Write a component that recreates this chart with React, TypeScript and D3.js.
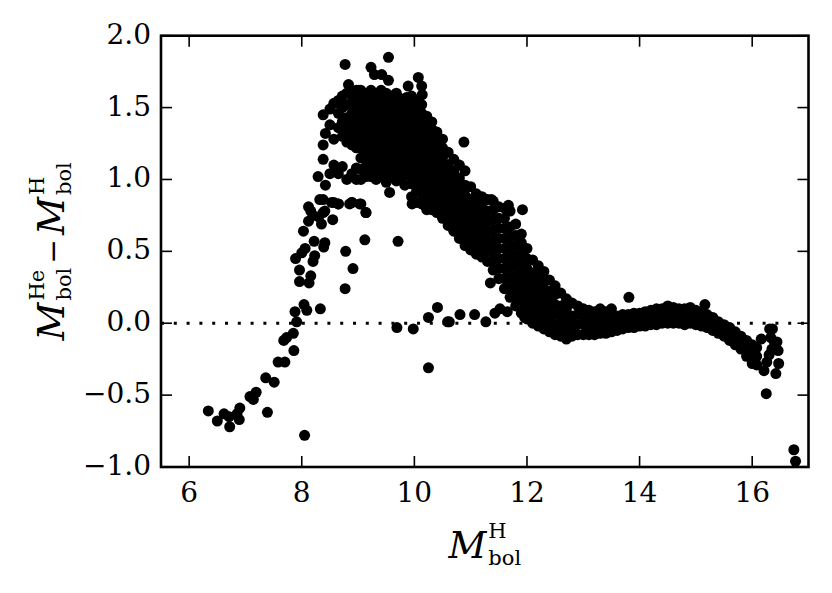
import React, { useEffect, useRef } from "react";
import * as d3 from "d3";

const W = 832;
const H = 593;
const PLOT = { left: 161, right: 808.5, top: 35.7, bottom: 467 };

const xDomain = [5.5, 17];
const yDomain = [-1, 2];
const xTicks = [6, 8, 10, 12, 14, 16];
const xTickLabels = ["6", "8", "10", "12", "14", "16"];
const yTicks = [-1.0, -0.5, 0.0, 0.5, 1.0, 1.5, 2.0];
const yTickLabels = ["\u22121.0", "\u22120.5", "0.0", "0.5", "1.0", "1.5", "2.0"];

// sparse points on the far left
const leftTail: [number, number][] = [
  [6.34, -0.61], [6.5, -0.68], [6.62, -0.63], [6.72, -0.72], [6.71, -0.65], [6.85, -0.63],
  [6.9, -0.59], [6.89, -0.67], [7.08, -0.51], [7.19, -0.48], [7.14, -0.53], [7.39, -0.62],
  [7.36, -0.38], [7.51, -0.41], [7.58, -0.27], [7.7, -0.27], [7.68, -0.12], [7.73, -0.1],
  [7.86, -0.19], [7.85, -0.07], [7.91, 0.01], [7.88, 0.08], [8.05, -0.78],
];

// rising branch between 7.9 and 9.2
const risingBranch: [number, number][] = [
  [8.04, 0.13], [8.09, 0.09], [8.33, 0.1], [7.96, 0.29], [7.96, 0.37], [8.13, 0.28],
  [8.16, 0.33], [7.89, 0.45], [8.06, 0.52], [8.0, 0.49], [8.2, 0.43], [8.23, 0.47],
  [8.22, 0.57], [8.41, 0.56], [8.39, 0.53], [8.78, 0.5], [8.91, 0.38], [8.77, 0.24],
  [9.12, 0.58], [9.71, 0.57], [8.03, 0.64], [8.12, 0.71], [8.2, 0.75], [8.12, 0.81],
  [8.35, 0.69], [8.55, 0.72], [8.41, 0.78], [9.14, 0.77], [8.85, 0.83], [8.65, 0.83],
  [8.16, 0.78], [8.3, 0.74], [8.32, 0.86], [8.53, 0.84], [9.03, 0.83], [8.89, 0.84],
  [9.96, 0.83], [10.22, 0.79],
];

// upper cluster, listed column by column: [x, y values]
const upperCluster: [number, number[]][] = [
  [8.29, [1.02]],
  [8.38, [0.77, 0.86, 1.14, 1.24, 1.45]],
  [8.42, [0.96, 1.32]],
  [8.5, [1.04, 1.38, 1.49]],
  [8.57, [0.84, 1.1, 1.28, 1.53]],
  [8.65, [0.83, 1.04, 1.36, 1.46, 1.55]],
  [8.72, [1.09, 1.3, 1.4, 1.5, 1.58]],
  [8.8, [1.0, 1.26, 1.34, 1.43, 1.52, 1.6]],
  [8.89, [0.84, 1.04, 1.24, 1.3, 1.38, 1.46, 1.54, 1.61]],
  [8.97, [1.0, 1.08, 1.22, 1.28, 1.35, 1.42, 1.49, 1.56, 1.62]],
  [9.05, [0.83, 1.0, 1.07, 1.15, 1.22, 1.29, 1.36, 1.43, 1.5, 1.57, 1.62]],
  [9.14, [0.77, 1.02, 1.09, 1.16, 1.23, 1.3, 1.37, 1.44, 1.51, 1.58]],
  [9.23, [1.02, 1.08, 1.15, 1.21, 1.27, 1.34, 1.41, 1.48, 1.55, 1.62]],
  [9.32, [1.0, 1.06, 1.12, 1.19, 1.26, 1.33, 1.4, 1.47, 1.54, 1.6]],
  [9.41, [1.02, 1.09, 1.16, 1.23, 1.3, 1.37, 1.44, 1.51, 1.57, 1.62]],
  [9.5, [0.98, 1.05, 1.12, 1.19, 1.26, 1.33, 1.4, 1.47, 1.54, 1.6]],
  [9.56, [0.91]],
  [9.59, [1.02, 1.09, 1.16, 1.23, 1.3, 1.37, 1.44, 1.51, 1.58]],
  [9.68, [0.99, 1.06, 1.13, 1.2, 1.27, 1.34, 1.41, 1.48, 1.55, 1.6]],
  [9.77, [1.01, 1.08, 1.15, 1.22, 1.29, 1.36, 1.43, 1.5, 1.56]],
  [9.83, [0.96]],
  [9.86, [1.03, 1.1, 1.17, 1.24, 1.31, 1.38, 1.45, 1.52, 1.57]],
  [9.95, [0.88, 0.97, 1.04, 1.11, 1.18, 1.25, 1.32, 1.39, 1.46, 1.53, 1.58]],
  [10.04, [0.84, 0.92, 0.99, 1.06, 1.13, 1.2, 1.27, 1.34, 1.41, 1.48, 1.55]],
  [10.13, [0.83, 0.9, 0.97, 1.04, 1.11, 1.18, 1.25, 1.32, 1.39, 1.46, 1.52]],
];

// highest points above the cluster
const upperPeaks: [number, number][] = [
  [8.77, 1.8], [9.23, 1.78], [9.54, 1.85], [9.29, 1.73], [9.42, 1.73], [9.54, 1.69],
  [8.83, 1.66], [10.07, 1.71], [10.13, 1.65], [9.89, 1.65], [10.14, 1.59], [9.01, 1.62],
];

// descending band, column by column
const descendingBand: [number, number[]][] = [
  [10.22, [0.8, 0.87, 0.94, 1.01, 1.08, 1.15, 1.22, 1.29, 1.36, 1.44]],
  [10.31, [0.79, 0.86, 0.93, 1.0, 1.07, 1.14, 1.21, 1.28, 1.35, 1.4]],
  [10.4, [0.77, 0.84, 0.91, 0.98, 1.05, 1.12, 1.19, 1.26, 1.33]],
  [10.5, [0.73, 0.8, 0.87, 0.94, 1.01, 1.08, 1.15, 1.22, 1.28]],
  [10.6, [0.68, 0.75, 0.82, 0.89, 0.96, 1.03, 1.1, 1.19]],
  [10.7, [0.64, 0.71, 0.78, 0.85, 0.92, 0.99, 1.06, 1.14]],
  [10.8, [0.59, 0.66, 0.73, 0.8, 0.87, 0.94, 1.01, 1.1]],
  [10.9, [0.54, 0.61, 0.68, 0.75, 0.82, 0.89, 0.96, 1.06]],
  [11.0, [0.51, 0.58, 0.65, 0.72, 0.79, 0.86, 0.95]],
  [11.1, [0.48, 0.55, 0.62, 0.69, 0.76, 0.83, 0.9]],
  [11.2, [0.46, 0.53, 0.6, 0.67, 0.74, 0.81, 0.88]],
  [11.3, [0.43, 0.5, 0.57, 0.64, 0.71, 0.78, 0.86]],
  [11.4, [0.37, 0.44, 0.51, 0.58, 0.65, 0.72, 0.79, 0.85]],
  [11.5, [0.31, 0.38, 0.45, 0.52, 0.59, 0.66, 0.73, 0.81]],
  [11.6, [0.24, 0.31, 0.38, 0.45, 0.52, 0.59, 0.66, 0.73, 0.8]],
  [11.7, [0.18, 0.25, 0.32, 0.39, 0.46, 0.53, 0.6, 0.67, 0.78]],
  [11.8, [0.12, 0.19, 0.26, 0.33, 0.4, 0.47, 0.54, 0.61, 0.69]],
  [11.9, [0.07, 0.14, 0.21, 0.28, 0.35, 0.42, 0.49, 0.56, 0.62]],
  [12.0, [0.03, 0.1, 0.17, 0.24, 0.31, 0.38, 0.45, 0.52]],
  [12.1, [0.0, 0.07, 0.14, 0.21, 0.28, 0.35, 0.44]],
  [12.2, [-0.02, 0.05, 0.12, 0.19, 0.26, 0.33, 0.4]],
  [12.3, [-0.04, 0.03, 0.1, 0.17, 0.24, 0.31, 0.36]],
  [12.4, [-0.06, 0.01, 0.08, 0.15, 0.22, 0.3]],
  [12.5, [-0.08, -0.01, 0.06, 0.13, 0.2, 0.26]],
  [12.6, [-0.09, -0.02, 0.05, 0.12, 0.21]],
  [12.7, [-0.11, -0.04, 0.03, 0.1, 0.17]],
  [12.8, [-0.09, -0.02, 0.05, 0.14]],
  [12.9, [-0.08, -0.01, 0.06, 0.12]],
  [13.0, [-0.08, -0.01, 0.05, 0.1]],
];

// nearly flat band from 13 to 16
const flatBand: [number, number[]][] = [
  [13.1, [-0.08, -0.02, 0.04, 0.09]],
  [13.2, [-0.08, -0.02, 0.04, 0.08]],
  [13.3, [-0.07, -0.01, 0.05, 0.1]],
  [13.4, [-0.07, -0.01, 0.05, 0.08]],
  [13.5, [-0.06, 0.0, 0.05, 0.1]],
  [13.6, [-0.05, 0.0, 0.05]],
  [13.7, [-0.04, 0.01, 0.06]],
  [13.8, [-0.03, 0.02, 0.06]],
  [13.9, [-0.03, 0.02, 0.07]],
  [14.0, [-0.02, 0.03, 0.07]],
  [14.1, [-0.02, 0.03, 0.08]],
  [14.2, [-0.01, 0.04, 0.09]],
  [14.3, [-0.01, 0.04, 0.1]],
  [14.4, [0.0, 0.05, 0.1]],
  [14.5, [0.0, 0.05, 0.12]],
  [14.6, [0.0, 0.05, 0.11]],
  [14.7, [0.0, 0.05, 0.1]],
  [14.8, [-0.01, 0.04, 0.1]],
  [14.9, [0.0, 0.05, 0.11]],
  [15.0, [-0.01, 0.04, 0.09]],
  [15.1, [-0.02, 0.03, 0.08]],
  [15.16, [0.13]],
  [15.2, [-0.03, 0.02, 0.06]],
  [15.3, [-0.05, 0.0, 0.04]],
  [15.4, [-0.07, -0.02, 0.01]],
  [15.5, [-0.09, -0.04, -0.01]],
  [15.6, [-0.12, -0.07, -0.03]],
  [15.7, [-0.15, -0.1, -0.06]],
  [15.8, [-0.18, -0.13, -0.09]],
  [15.9, [-0.23, -0.17, -0.12]],
  [16.0, [-0.28, -0.21, -0.15]],
  [16.08, [-0.29, -0.23, -0.17]],
];

// scattered points at the faint end
const faintTail: [number, number][] = [
  [16.16, -0.11], [16.21, -0.33], [16.25, -0.49], [16.31, -0.04], [16.36, -0.04],
  [16.33, -0.1], [16.4, -0.14], [16.44, -0.13], [16.46, -0.19], [16.47, -0.28],
  [16.42, -0.35], [16.35, -0.18], [16.3, -0.22], [16.26, -0.27], [16.74, -0.88], [16.77, -0.96],
];

// branch lying along zero
const zeroBranch: [number, number][] = [
  [9.69, -0.03], [9.98, -0.04], [10.25, 0.04], [10.41, 0.11], [10.59, 0.01], [10.62, 0.01],
  [10.81, 0.06], [11.07, 0.06], [11.27, 0.01], [11.43, 0.07], [11.52, 0.1], [11.65, 0.08],
  [11.96, 0.04], [10.25, -0.31],
];

const outliers: [number, number][] = [
  [10.88, 1.26], [11.92, 0.79], [13.81, 0.18], [11.35, 0.28], [11.67, 0.82], [11.37, 0.86],
];

const FONT = "'DejaVu Serif', 'Liberation Serif', serif";

type MathItem = { base?: string; sup?: string; sub?: string; op?: string };

function drawMath(
  g: d3.Selection<SVGGElement, unknown, null, undefined>,
  items: MathItem[],
  mainSize: number,
  scriptSize: number
) {
  let cx = 0;
  const supShift = -0.54 * mainSize;
  const subShift = 0.19 * mainSize;
  items.forEach((it) => {
    if (it.op) {
      cx += 4;
      const t = g
        .append("text")
        .attr("x", cx)
        .attr("y", -0.02 * mainSize)
        .attr("font-family", FONT)
        .attr("font-size", mainSize * 0.8)
        .text(it.op);
      cx += (t.node() as SVGTextElement).getComputedTextLength() + 4;
      return;
    }
    const b = g
      .append("text")
      .attr("x", cx)
      .attr("y", 0)
      .attr("font-family", FONT)
      .attr("font-style", "italic")
      .attr("font-size", mainSize)
      .text(it.base || "");
    const bw = (b.node() as SVGTextElement).getComputedTextLength() + 2;
    let sw = 0;
    if (it.sup) {
      const s = g
        .append("text")
        .attr("x", cx + bw)
        .attr("y", supShift)
        .attr("font-family", FONT)
        .attr("font-size", scriptSize)
        .text(it.sup);
      sw = Math.max(sw, (s.node() as SVGTextElement).getComputedTextLength());
    }
    if (it.sub) {
      const s = g
        .append("text")
        .attr("x", cx + bw)
        .attr("y", subShift)
        .attr("font-family", FONT)
        .attr("font-size", scriptSize)
        .text(it.sub);
      sw = Math.max(sw, (s.node() as SVGTextElement).getComputedTextLength());
    }
    cx += bw + sw;
  });
  return cx;
}

export default function App() {
  const ref = useRef<SVGSVGElement | null>(null);

  useEffect(() => {
    const svg = d3.select(ref.current);
    svg.selectAll("*").remove();

    const x = d3.scaleLinear().domain(xDomain).range([PLOT.left, PLOT.right]);
    const y = d3.scaleLinear().domain(yDomain).range([PLOT.bottom, PLOT.top]);

    const colsToPts = (cols: [number, number[]][]) =>
      cols.flatMap(([cx, ys]) => ys.map((v) => [cx, v] as [number, number]));

    const points: [number, number][] = [
      ...leftTail,
      ...risingBranch,
      ...colsToPts(upperCluster),
      ...upperPeaks,
      ...colsToPts(descendingBand),
      ...colsToPts(flatBand),
      ...faintTail,
      ...zeroBranch,
      ...outliers,
    ];

    svg
      .append("defs")
      .append("clipPath")
      .attr("id", "plotclip")
      .append("rect")
      .attr("x", PLOT.left)
      .attr("y", PLOT.top)
      .attr("width", PLOT.right - PLOT.left)
      .attr("height", PLOT.bottom - PLOT.top);

    const plot = svg.append("g").attr("clip-path", "url(#plotclip)");

    plot
      .selectAll("circle")
      .data(points)
      .enter()
      .append("circle")
      .attr("cx", (d) => x(d[0]))
      .attr("cy", (d) => y(d[1]))
      .attr("r", 5.5)
      .attr("fill", "#000");

    plot
      .append("line")
      .attr("x1", x(xDomain[0]))
      .attr("x2", x(xDomain[1]))
      .attr("y1", y(0))
      .attr("y2", y(0))
      .attr("stroke", "#000")
      .attr("stroke-width", 3)
      .attr("stroke-dasharray", "3 9.8");

    // ticks (inward, all four sides)
    const tickLen = 11;
    const tg = svg.append("g").attr("stroke", "#000").attr("stroke-width", 1.6);
    xTicks.forEach((t) => {
      tg.append("line").attr("x1", x(t)).attr("x2", x(t)).attr("y1", PLOT.bottom).attr("y2", PLOT.bottom - tickLen);
      tg.append("line").attr("x1", x(t)).attr("x2", x(t)).attr("y1", PLOT.top).attr("y2", PLOT.top + tickLen);
    });
    yTicks.forEach((t) => {
      tg.append("line").attr("x1", PLOT.left).attr("x2", PLOT.left + tickLen).attr("y1", y(t)).attr("y2", y(t));
      tg.append("line").attr("x1", PLOT.right).attr("x2", PLOT.right - tickLen).attr("y1", y(t)).attr("y2", y(t));
    });

    // spines
    svg
      .append("rect")
      .attr("x", PLOT.left)
      .attr("y", PLOT.top)
      .attr("width", PLOT.right - PLOT.left)
      .attr("height", PLOT.bottom - PLOT.top)
      .attr("fill", "none")
      .attr("stroke", "#000")
      .attr("stroke-width", 2.6);

    // tick labels
    xTicks.forEach((t, i) => {
      svg
        .append("text")
        .attr("x", x(t))
        .attr("y", 502)
        .attr("text-anchor", "middle")
        .attr("font-family", FONT)
        .attr("font-size", 28)
        .text(xTickLabels[i]);
    });
    yTicks.forEach((t, i) => {
      svg
        .append("text")
        .attr("x", 151)
        .attr("y", y(t) + 8)
        .attr("text-anchor", "end")
        .attr("font-family", FONT)
        .attr("font-size", 28)
        .text(yTickLabels[i]);
    });

    // x label
    const xl = svg.append("g");
    const xw = drawMath(xl, [{ base: "M", sup: "H", sub: "bol" }], 37, 21);
    xl.attr("transform", `translate(${(PLOT.left + PLOT.right) / 2 - xw / 2}, 558)`);

    // y label
    const yl = svg.append("g");
    const yInner = yl.append("g");
    const yw = drawMath(
      yInner,
      [
        { base: "M", sup: "He", sub: "bol" },
        { op: "\u2212" },
        { base: "M", sup: "H", sub: "bol" },
      ],
      37,
      21
    );
    yInner.attr("transform", `translate(${-yw / 2}, 0)`);
    yl.attr("transform", `translate(64, ${(PLOT.top + PLOT.bottom) / 2}) rotate(-90)`);
  }, []);

  return (
    <svg
      ref={ref}
      width={W}
      height={H}
      style={{ position: "absolute", left: 0, top: 0, background: "#fff" }}
    />
  );
}
